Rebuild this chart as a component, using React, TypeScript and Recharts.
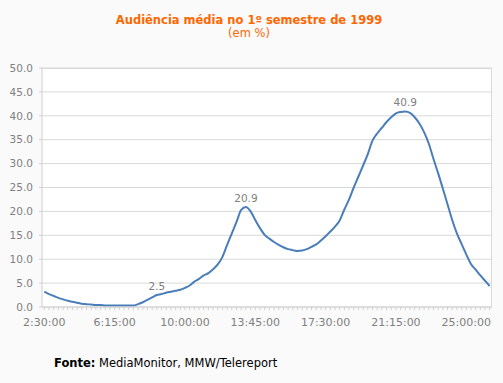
import React from 'react';
import { LineChart, Line, XAxis, YAxis, CartesianGrid, LabelList } from 'recharts';

const categories = [
  '2:30:00', '2:45:00',
  '3:00:00', '3:15:00', '3:30:00', '3:45:00',
  '4:00:00', '4:15:00', '4:30:00', '4:45:00',
  '5:00:00', '5:15:00', '5:30:00', '5:45:00',
  '6:00:00', '6:15:00', '6:30:00', '6:45:00',
  '7:00:00', '7:15:00', '7:30:00', '7:45:00',
  '8:00:00', '8:15:00', '8:30:00', '8:45:00',
  '9:00:00', '9:15:00', '9:30:00', '9:45:00',
  '10:00:00', '10:15:00', '10:30:00', '10:45:00',
  '11:00:00', '11:15:00', '11:30:00', '11:45:00',
  '12:00:00', '12:15:00', '12:30:00', '12:45:00',
  '13:00:00', '13:15:00', '13:30:00', '13:45:00',
  '14:00:00', '14:15:00', '14:30:00', '14:45:00',
  '15:00:00', '15:15:00', '15:30:00', '15:45:00',
  '16:00:00', '16:15:00', '16:30:00', '16:45:00',
  '17:00:00', '17:15:00', '17:30:00', '17:45:00',
  '18:00:00', '18:15:00', '18:30:00', '18:45:00',
  '19:00:00', '19:15:00', '19:30:00', '19:45:00',
  '20:00:00', '20:15:00', '20:30:00', '20:45:00',
  '21:00:00', '21:15:00', '21:30:00', '21:45:00',
  '22:00:00', '22:15:00', '22:30:00', '22:45:00',
  '23:00:00', '23:15:00', '23:30:00', '23:45:00',
  '24:00:00', '24:15:00', '24:30:00', '24:45:00',
  '25:00:00', '25:15:00', '25:30:00', '25:45:00',
  '26:00:00', '26:15:00',
];

const audience = [
  3.2, 2.7, 2.3, 1.9, 1.6, 1.3, 1.1, 0.9, 0.7, 0.6,
  0.5, 0.4, 0.4, 0.3, 0.3, 0.3, 0.3, 0.3, 0.3, 0.3,
  0.6, 1.0, 1.5, 2.0, 2.5, 2.7, 3.0, 3.2, 3.4, 3.6,
  4.0, 4.5, 5.3, 5.9, 6.6, 7.1, 7.9, 8.9, 10.5, 13.0,
  15.4, 17.8, 20.3, 20.9, 20.0, 18.2, 16.5, 15.1, 14.3, 13.6,
  13.0, 12.5, 12.1, 11.9, 11.7, 11.8, 12.1, 12.6, 13.1, 13.9,
  14.8, 15.8, 16.8, 18.1, 20.4, 22.5, 25.0, 27.3, 29.6, 32.0,
  34.8, 36.3, 37.5, 38.7, 39.7, 40.5, 40.8, 40.9, 40.6, 39.7,
  38.4, 36.6, 34.2, 31.0, 28.0, 24.8, 21.5, 18.2, 15.4, 13.2,
  11.0, 9.0, 7.8, 6.6, 5.5, 4.4,
];

const xTickLabels = ['2:30:00', '6:15:00', '10:00:00', '13:45:00', '17:30:00', '21:15:00', '25:00:00'];
const yTicks = [0, 5, 10, 15, 20, 25, 30, 35, 40, 45, 50];
const labeledTimes = ['8:30:00', '13:15:00', '21:45:00'];

const data = categories.map((time, i) => ({ time, value: audience[i] }));

const FONT = '"DejaVu Sans", Verdana, sans-serif';

const XTick = (props: any) => {
  const { x, y, payload } = props;
  if (!xTickLabels.includes(payload.value)) return <g />;
  return (
    <text x={x} y={y} dy="0.71em" textAnchor="middle" fill="#808080" fontSize={11} fontFamily={FONT}>
      {payload.value}
    </text>
  );
};

const PointLabel = (props: any) => {
  const { x, y, value, index } = props;
  if (!labeledTimes.includes(categories[index])) return null;
  return (
    <text x={x} y={y - 5} textAnchor="middle" fill="#808080" fontSize={10.5} fontFamily={FONT}>
      {Number(value).toFixed(1)}
    </text>
  );
};

export default function App() {
  return (
    <div style={{ position: 'absolute', left: 0, top: 0, width: 503, height: 383, background: '#fafafa', overflow: 'hidden' }}>
      <LineChart width={503} height={383} data={data} margin={{ top: 68, right: 11, bottom: 46, left: 0 }}>
        <CartesianGrid vertical={false} stroke="#d9d9d9" fill="#ffffff" />
        <XAxis
          dataKey="time"
          interval={0}
          tick={<XTick />}
          tickSize={3}
          tickMargin={8}
          height={30}
          padding={{ left: 2.3, right: 2.3 }}
          axisLine={{ stroke: '#d0d0d0' }}
          tickLine={{ stroke: '#d0d0d0' }}
        />
        <YAxis
          domain={[0, 50]}
          ticks={yTicks}
          width={42}
          tickSize={3}
          tickMargin={6}
          tickFormatter={(v: number) => v.toFixed(1)}
          tick={{ fill: '#808080', fontSize: 10.5, fontFamily: FONT }}
          axisLine={{ stroke: '#d0d0d0' }}
          tickLine={{ stroke: '#d0d0d0' }}
        />
        <Line
          type="monotone"
          dataKey="value"
          stroke="#4a7ebb"
          strokeWidth={2}
          dot={false}
          isAnimationActive={false}
        >
          <LabelList dataKey="value" content={<PointLabel />} />
        </Line>
      </LineChart>
      <div style={{ position: 'absolute', left: 42, top: 68, width: 449, height: 238, borderTop: '1px solid #d9d9d9', borderRight: '1px solid #d9d9d9', pointerEvents: 'none' }} />
      <svg width={503} height={383} style={{ position: 'absolute', left: 0, top: 0, pointerEvents: 'none' }}>
        <text x={249} y={24} textAnchor="middle" fill="#ff6600" fontSize={11.5} fontWeight="bold" fontFamily={FONT}>
          Audiência média no 1º semestre de 1999
        </text>
        <text x={249} y={37} textAnchor="middle" fill="#ff6600" fontSize={11.5} fontFamily={FONT}>
          (em %)
        </text>
        <text x={54} y={367} fill="#000000" fontSize={11.5} fontFamily={FONT}>
          <tspan fontWeight="bold">Fonte:</tspan> MediaMonitor, MMW/Telereport
        </text>
      </svg>
    </div>
  );
}
